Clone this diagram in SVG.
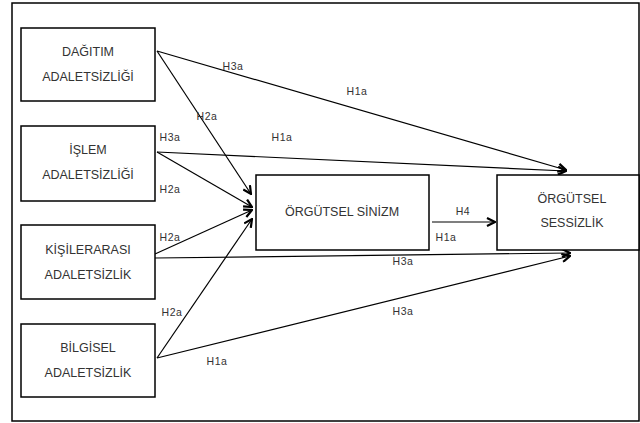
<svg xmlns="http://www.w3.org/2000/svg" width="640" height="423" viewBox="0 0 640 423">
<defs>
<style>
.box{fill:#fff;stroke:#000;stroke-width:1.5}
.nt{font-family:"Liberation Sans",Arial,sans-serif;font-size:12.5px;fill:#333;text-anchor:middle}
.lb{font-family:"Liberation Sans",Arial,sans-serif;font-size:10.5px;fill:#333;text-anchor:middle;letter-spacing:0.5px}
.ln{stroke:#000;stroke-width:1.2;fill:none;marker-end:url(#arr)}
</style>
<marker id="arr" viewBox="0 0 10 10" refX="9" refY="5" markerWidth="10" markerHeight="10" markerUnits="userSpaceOnUse" orient="auto">
<path d="M1,1 L9,5 L1,9" fill="none" stroke="#000" stroke-width="2.2"/>
</marker>
</defs>
<rect x="0" y="0" width="640" height="423" fill="#fff"/>
<rect x="12" y="3" width="627" height="418" fill="none" stroke="#000" stroke-width="1.5"/>
<g id="connectors">
<line class="ln" x1="157" y1="51" x2="566" y2="170"/>
<line class="ln" x1="157" y1="51" x2="251" y2="194"/>
<line class="ln" x1="157" y1="152" x2="566" y2="171"/>
<line class="ln" x1="157" y1="152" x2="252" y2="207"/>
<line class="ln" x1="155" y1="254" x2="252" y2="210"/>
<line class="ln" x1="155" y1="258" x2="570" y2="253"/>
<line class="ln" x1="157" y1="358" x2="252" y2="219"/>
<line class="ln" x1="157" y1="358" x2="570" y2="256"/>
<line class="ln" x1="432" y1="222" x2="495" y2="222"/>
</g>
<g id="labels">
<text class="lb" x="233" y="70">H3a</text>
<text class="lb" x="357" y="95">H1a</text>
<text class="lb" x="207" y="120">H2a</text>
<text class="lb" x="170" y="141">H3a</text>
<text class="lb" x="282" y="141">H1a</text>
<text class="lb" x="170" y="193">H2a</text>
<text class="lb" x="170" y="241">H2a</text>
<text class="lb" x="172" y="316">H2a</text>
<text class="lb" x="217" y="365">H1a</text>
<text class="lb" x="463" y="215">H4</text>
<text class="lb" x="446" y="241">H1a</text>
<text class="lb" x="403" y="265">H3a</text>
<text class="lb" x="403" y="315">H3a</text>
</g>
<g id="n1">
<rect class="box" x="21" y="28" width="134" height="73"/>
<text class="nt" x="88" y="56">DAĞITIM</text>
<text class="nt" x="88" y="81">ADALETSİZLİĞİ</text>
</g>
<g id="n2">
<rect class="box" x="21" y="126" width="134" height="75"/>
<text class="nt" x="88" y="154">İŞLEM</text>
<text class="nt" x="88" y="179">ADALETSİZLİĞİ</text>
</g>
<g id="n3">
<rect class="box" x="21" y="225" width="134" height="74"/>
<text class="nt" x="88" y="254">KİŞİLERARASI</text>
<text class="nt" x="88" y="279">ADALETSİZLİK</text>
</g>
<g id="n4">
<rect class="box" x="21" y="324" width="134" height="73"/>
<text class="nt" x="88" y="352">BİLGİSEL</text>
<text class="nt" x="88" y="377">ADALETSİZLİK</text>
</g>
<g id="n5">
<rect class="box" x="256" y="175" width="173" height="75"/>
<text class="nt" x="342" y="216">ÖRGÜTSEL SİNİZM</text>
</g>
<g id="n6">
<rect class="box" x="497" y="175" width="142" height="75"/>
<text class="nt" x="572" y="203">ÖRGÜTSEL</text>
<text class="nt" x="572" y="227">SESSİZLİK</text>
</g>
</svg>
